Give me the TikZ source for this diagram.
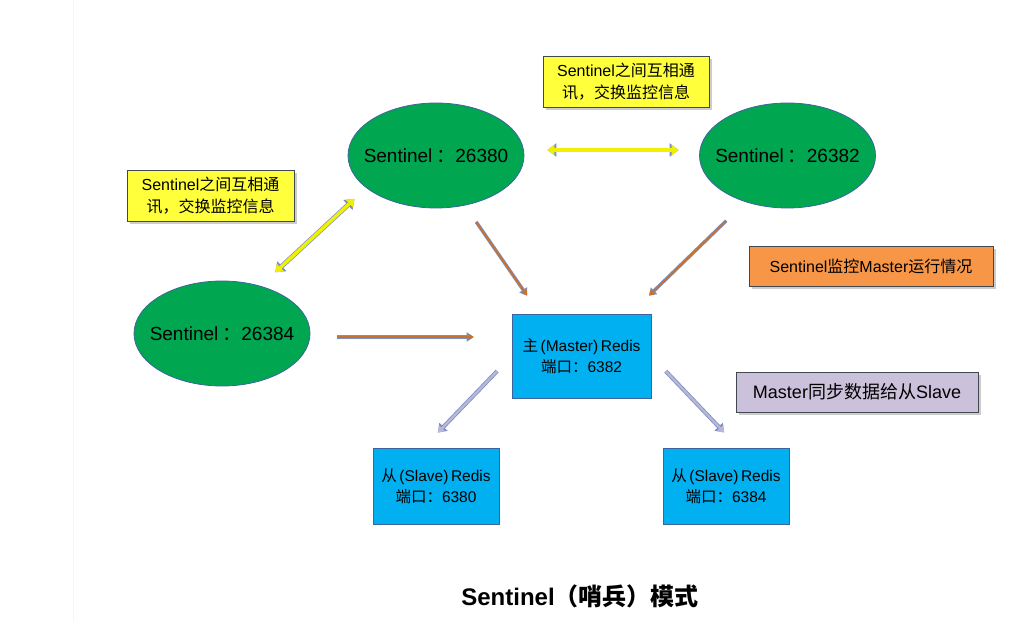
\documentclass[tikz,border=0pt]{standalone}
\usepackage{fontspec}
\setmainfont{Liberation Sans}
\newfontfamily\zh{Noto Sans CJK SC}
\usetikzlibrary{arrows.meta,shapes.geometric,shadows,calc}

\definecolor{sentgreen}{HTML}{00A650}
\definecolor{sentborder}{HTML}{3E64A0}
\definecolor{redisblue}{HTML}{00B0F0}
\definecolor{notey}{HTML}{FFFF3C}
\definecolor{talkyellow}{HTML}{F0F000}
\definecolor{noteorange}{HTML}{F79646}
\definecolor{notepurple}{HTML}{CCC1DA}
\definecolor{noteborder}{HTML}{404850}
\definecolor{edgeblue}{HTML}{7A90C2}
\definecolor{watchbrown}{HTML}{C8722C}
\definecolor{synclav}{HTML}{BAB6DA}

\begin{document}
\begin{tikzpicture}%
  [x=1pt,y=-1pt,
   sentinel/.style=
    {ellipse,draw=sentborder,fill=sentgreen,line width=0.8pt,inner ysep=0pt,inner xsep=-11pt,
     minimum width=176pt,minimum height=105pt,font=\fontsize{19}{22}\selectfont},
   redis/.style=
    {draw=sentborder,fill=redisblue,line width=0.6pt,align=center,inner sep=0pt,
     font=\fontsize{15.5}{21}\selectfont},
   note/.style=
    {draw=noteborder,line width=0.7pt,align=center,inner sep=0pt,
     font=\fontsize{16}{22}\selectfont,
     drop shadow={shadow xshift=2.5pt,shadow yshift=-3pt,opacity=0.4}},
   talk/.style=
    {draw=talkyellow,line width=3.4pt,
     {Triangle[length=7pt,width=10pt]}-{Triangle[length=7pt,width=10pt]},
     preaction={draw=edgeblue,line width=4.8pt,
       {Triangle[length=9pt,width=13pt]}-{Triangle[length=9pt,width=13pt]}}},
   watch/.style=
    {draw=watchbrown,line width=1.8pt,-{Triangle[length=5pt,width=6pt]},
     preaction={draw=edgeblue,line width=3.4pt,-{Triangle[length=7pt,width=9pt]}}},
   sync/.style=
    {draw=synclav,line width=2.4pt,-{Triangle[length=6pt,width=8pt]},
     preaction={draw=edgeblue,line width=4pt,-{Triangle[length=8pt,width=11pt]}}}
  ]
  \useasboundingbox[fill=white] (0,0) rectangle (1031,621);
  \draw[gray!8,line width=0.8pt] (73,0) -- (73,621);

  % sentinels
  \node[sentinel] (s1) at (436,155.5) {Sentinel\hspace{4pt}{\zh ：}26380};
  \node[sentinel] (s2) at (787.5,155.5) {Sentinel\hspace{4pt}{\zh ：}26382};
  \node[sentinel] (s3) at (222,333.5) {Sentinel\hspace{4pt}{\zh ：}26384};

  % redis servers
  \node[redis,minimum width=139pt,minimum height=84pt] (m) at (581.5,356)
    {{\zh 主}\,(Master)\,Redis\\{\zh 端口：}6382};
  \node[redis,minimum width=126pt,minimum height=76pt] (sl1) at (436,486)
    {{\zh 从}\,(Slave)\,Redis\\{\zh 端口：}6380};
  \node[redis,minimum width=126pt,minimum height=76pt] (sl2) at (726,486)
    {{\zh 从}\,(Slave)\,Redis\\{\zh 端口：}6384};

  % notes
  \node[note,fill=notey,minimum width=166pt,minimum height=51pt] (n1) at (626,81.5)
    {Sentinel{\zh 之间互相通}\\{\zh 讯，交换监控信息}};
  \node[note,fill=notey,minimum width=167pt,minimum height=51pt] (n2) at (210.5,195.5)
    {Sentinel{\zh 之间互相通}\\{\zh 讯，交换监控信息}};
  \node[note,fill=noteorange,minimum width=244pt,minimum height=40pt] (n3) at (871,266)
    {Sentinel{\zh 监控}Master{\zh 运行情况}};
  \node[note,fill=notepurple,minimum width=242pt,minimum height=40pt,
    font=\fontsize{18}{22}\selectfont] (n4) at (857,392)
    {Master{\zh 同步数据给从}Slave};

  % sentinels talk to each other
  \draw[talk,shorten <=23pt,shorten >=20.5pt] ([yshift=5.5pt]s1.east) -- ([yshift=5.5pt]s2.west);
  \draw[talk,shorten <=20pt,shorten >=16pt] (s3.51) -- (s1.205);

  % sentinels watch the master
  \draw[watch,shorten <=20pt,shorten >=22pt] (s1.-60) -- ($(m.north west)!0.2!(m.north east)$);
  \draw[watch,shorten <=27pt,shorten >=26pt] (s2.-132) -- ($(m.north west)!0.85!(m.north east)$);
  \draw[watch,shorten <=27pt,shorten >=38pt] ([yshift=-3.5pt]s3.east) -- ([yshift=-3.5pt]s3.east -| m.west);

  % master syncs the slaves
  \draw[sync,shorten <=21pt,shorten >=21pt] (m.west) -- ($(sl1.north west)!0.4!(sl1.north east)$);
  \draw[sync,shorten <=21pt,shorten >=21pt] (m.east) -- ($(sl2.north west)!0.6!(sl2.north east)$);

  \node[font=\fontsize{24}{27}\selectfont\bfseries] (title) at (580,596)
    {Sentinel{\zh （哨兵）模式}};
\end{tikzpicture}
\end{document}
